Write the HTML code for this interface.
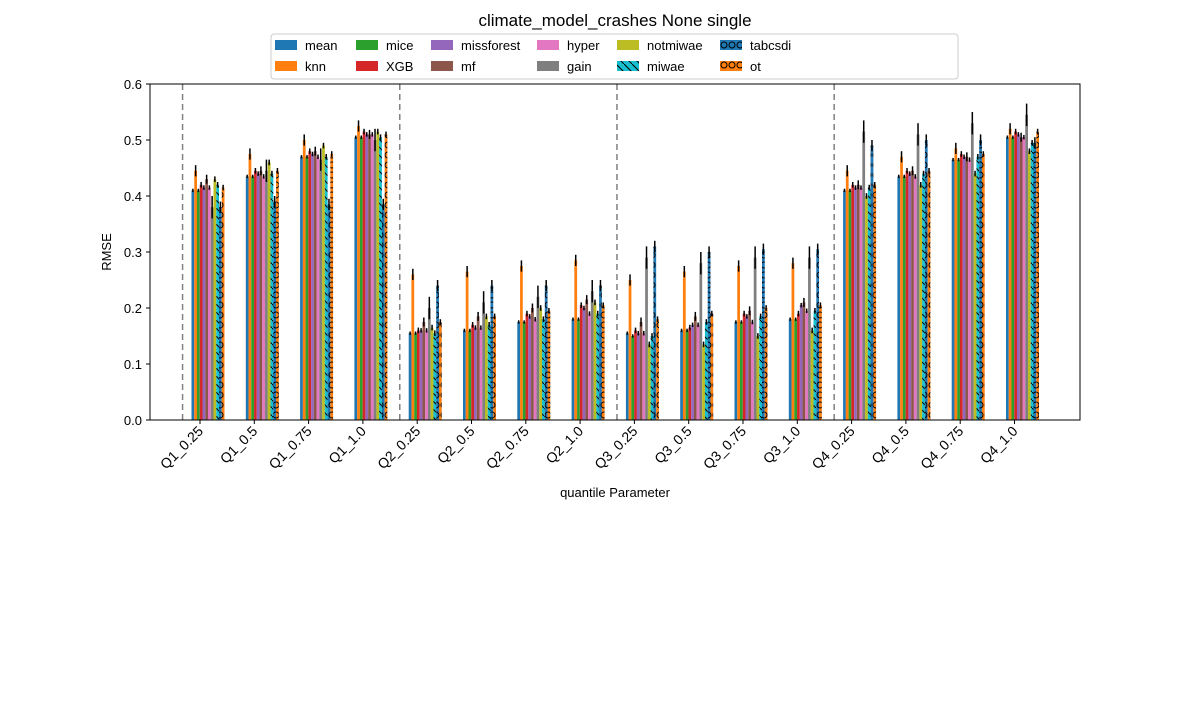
<!DOCTYPE html>
<html><head><meta charset="utf-8"><style>
body{margin:0;background:#fff;font-family:"Liberation Sans",sans-serif}
text{font-family:"Liberation Sans",sans-serif}
</style></head><body>
<svg id="c" width="1200" height="700" xmlns="http://www.w3.org/2000/svg">
<defs>
<pattern id="p-miwae" patternUnits="userSpaceOnUse" width="8" height="8"><rect width="8" height="8" fill="#17becf"/><path d="M0,0 L8,8" stroke="#000" stroke-width="1"/></pattern>
<pattern id="p-tabcsdi" patternUnits="userSpaceOnUse" width="8" height="10"><rect width="8" height="10" fill="#1f77b4"/><circle cx="4" cy="5" r="3" fill="none" stroke="#000" stroke-width="1"/></pattern>
<pattern id="p-ot" patternUnits="userSpaceOnUse" width="8" height="10"><rect width="8" height="10" fill="#ff7f0e"/><circle cx="4" cy="5" r="3" fill="none" stroke="#000" stroke-width="1"/></pattern>
</defs>
<text x="615" y="26" text-anchor="middle" font-size="17">climate_model_crashes None single</text>
<g id="plot"></g>
<rect x="150" y="84" width="930" height="336" fill="none" stroke="#000" stroke-width="1"/>
<text x="615" y="497" text-anchor="middle" font-size="13">quantile Parameter</text>
<text transform="translate(111,252) rotate(-90)" text-anchor="middle" font-size="13">RMSE</text>
<g id="legend"></g>
</svg>
<script>
const categories=["Q1_0.25","Q1_0.5","Q1_0.75","Q1_1.0","Q2_0.25","Q2_0.5","Q2_0.75","Q2_1.0","Q3_0.25","Q3_0.5","Q3_0.75","Q3_1.0","Q4_0.25","Q4_0.5","Q4_0.75","Q4_1.0"];
const methods=["mean","knn","mice","XGB","missforest","mf","hyper","gain","notmiwae","miwae","tabcsdi","ot"];
const colors=["#1f77b4","#ff7f0e","#2ca02c","#d62728","#9467bd","#8c564b","#e377c2","#7f7f7f","#bcbd22","url(#p-miwae)","url(#p-tabcsdi)","url(#p-ot)"];
const values=[
[.41,.445,.41,.42,.415,.43,.415,.38,.43,.42,.38,.415],
[.435,.475,.435,.445,.44,.445,.435,.445,.46,.44,.39,.445],
[.47,.5,.47,.48,.475,.48,.47,.465,.49,.47,.385,.475],
[.505,.525,.505,.515,.51,.51,.51,.5,.515,.505,.385,.51],
[.155,.26,.155,.16,.16,.175,.16,.2,.165,.155,.24,.175],
[.16,.265,.16,.17,.165,.185,.165,.21,.185,.17,.24,.185],
[.175,.275,.175,.19,.185,.2,.18,.22,.2,.18,.24,.195],
[.18,.285,.18,.205,.2,.215,.19,.23,.21,.19,.24,.205],
[.155,.25,.15,.16,.155,.175,.155,.29,.135,.15,.31,.18],
[.16,.265,.16,.165,.17,.185,.17,.28,.135,.175,.30,.19],
[.175,.275,.175,.19,.185,.195,.175,.29,.15,.185,.305,.2],
[.18,.28,.18,.19,.205,.21,.195,.29,.16,.195,.305,.205],
[.41,.445,.41,.42,.415,.42,.415,.515,.40,.415,.49,.42],
[.435,.47,.435,.445,.44,.445,.435,.51,.42,.44,.50,.445],
[.465,.485,.465,.475,.47,.47,.465,.53,.44,.47,.50,.475],
[.505,.52,.505,.515,.51,.505,.505,.545,.48,.495,.495,.515]];
const errors=[.003,.01,.003,.005,.004,.008,.004,.02,.005,.005,.01,.005];
const yTicks=[0,0.1,0.2,0.3,0.4,0.5,0.6];
const yTickLabels=["0.0","0.1","0.2","0.3","0.4","0.5","0.6"];
const dividers=[-0.45,3.55,7.55,11.55];

const NS="http://www.w3.org/2000/svg";
const plot=document.getElementById('plot');
const X=i=>208+54.3*i;
const Y=v=>420-v*560;
const bw=2.75;
function mk(t,a,p){const e=document.createElementNS(NS,t);for(const k in a)e.setAttribute(k,a[k]);(p||plot).appendChild(e);return e;}
yTicks.forEach((v,i)=>{
 const l=mk('line',{x1:146,x2:150,y1:Y(v),y2:Y(v),stroke:'#000'});
 
 
 const t=mk('text',{x:142,y:Y(v)+5,'text-anchor':'end','font-size':13});
 t.textContent=yTickLabels[i];
 
 
});
dividers.forEach(d=>{
 const l=mk('line',{x1:X(d)-1,x2:X(d)-1,y1:84,y2:420,stroke:'#808080','stroke-width':1.5,'stroke-dasharray':'6,4'});
 
 
});
categories.forEach((c,i)=>{
 values[i].forEach((v,j)=>{
  const x=X(i)-bw*6+bw*j;
  const r=mk('rect',{x:x,y:Y(v),width:bw,height:Y(0)-Y(v),fill:colors[j]});
  
  
  const e=mk('line',{x1:x+bw/2,x2:x+bw/2,y1:Y(v+errors[j]),y2:Y(v-errors[j]),stroke:'#000','stroke-width':1.5});
  
  
 });
 const tx=X(i)-8;
 const tk=mk('line',{x1:tx,x2:tx,y1:420,y2:424,stroke:'#000'});
 
 
 const t=mk('text',{'text-anchor':'end','font-size':14,transform:`translate(${tx+4},432) rotate(-45)`});
 t.textContent=c;
 
 
});
const lg=document.getElementById('legend');
const lb=mk('rect',{x:271,y:34,width:687,height:45,fill:'#fff',stroke:'#ccc',rx:3},lg);


const colX=[275,356,431,537,617,720];
methods.forEach((m,j)=>{
 const col=Math.floor(j/2),row=j%2;
 const y=45+row*21;
 const s=mk('rect',{x:colX[col],y:y-5,width:22,height:10,fill:colors[j]},lg);
 
 
 const t=mk('text',{x:colX[col]+30,y:y+5,'font-size':13},lg);
 t.textContent=m;
 
 
});
</script>
</body></html>
